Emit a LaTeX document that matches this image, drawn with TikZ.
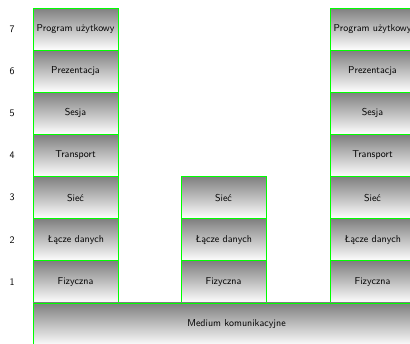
\documentclass[tikz,border=0pt]{standalone}
\usetikzlibrary{shadings}
\begin{document}
\begin{tikzpicture}[x=1pt,y=-1pt,
  layer/.style={draw=green, line width=0.9pt, top color=gray, bottom color=white,
    minimum width=85pt, minimum height=42.14pt, inner sep=0pt, font=\sffamily},
  num/.style={font=\sffamily}]
\useasboundingbox (0,0) rectangle (410,344);
\def\rh{42.14}
\foreach \k/\t in {1/Fizyczna,2/Łącze danych,3/Sieć,4/Transport,5/Sesja,6/Prezentacja,7/Program użytkowy}{
  \node[layer] (A\k) at (75.5,{303-\rh*(\k-0.5)}) {\t};
  \node[layer] (C\k) at (372.5,{303-\rh*(\k-0.5)}) {\t};
  \node[num] (n\k) at (12,{303-\rh*(\k-0.5)}) {\k};
}
\foreach \k/\t in {1/Fizyczna,2/Łącze danych,3/Sieć}{
  \node[layer] (B\k) at (223.5,{303-\rh*(\k-0.5)}) {\t};
}
\node[layer, minimum width=407pt, minimum height=43pt] (M) at (236.5,324.5) {Medium komunikacyjne};
\end{tikzpicture}
\end{document}
